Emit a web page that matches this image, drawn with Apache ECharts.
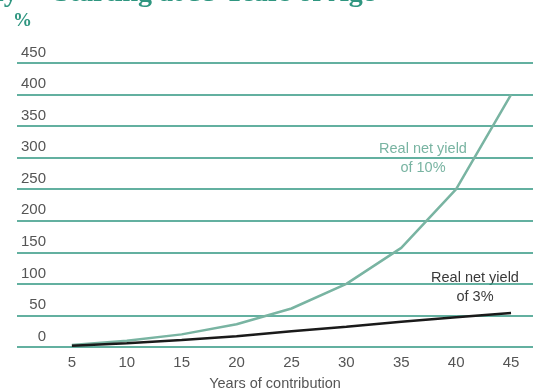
<!DOCTYPE html>
<html>
<head>
<meta charset="utf-8">
<script src="https://cdn.jsdelivr.net/npm/echarts@6/dist/echarts.min.js"></script>
<style>
  html, body { margin: 0; padding: 0; background: #fff; }
  #chart { width: 533px; height: 389px; }
</style>
</head>
<body>
<div id="chart"></div>
<script>
// years of contribution (x axis)
const years = [5, 10, 15, 20, 25, 30, 35, 40, 45];
// accumulated value in %
const yield10 = [3, 10, 20, 36, 61, 100, 157, 250, 400];
const yield3 = [2, 6, 11, 17, 25, 32, 40, 47, 54];
const yTicks = [0, 50, 100, 150, 200, 250, 300, 350, 400, 450];

const green = "#2f9680";
const lightGreen = "#79b4a2";
const grey = "#555";

const chart = echarts.init(document.getElementById("chart"));

const option = {
  animation: false,
  grid: { left: 17, right: 0, top: 63, bottom: 42, containLabel: false, outerBoundsMode: "none" },
  xAxis: {
    type: "value",
    min: 0,
    max: 47,
    interval: 5,
    axisLine: { show: false },
    axisTick: { show: false },
    splitLine: { show: false },
    axisLabel: {
      color: grey,
      fontSize: 15,
      fontFamily: "Liberation Sans",
      margin: 8,
      showMinLabel: false,
      showMaxLabel: false,
      formatter: (v) => (years.includes(v) ? String(v) : ""),
    },
    name: "Years of contribution",
    nameLocation: "middle",
    nameGap: 29,
    nameTextStyle: { color: grey, fontSize: 14.5, fontFamily: "Liberation Sans" },
  },
  yAxis: {
    type: "value",
    min: yTicks[0],
    max: yTicks[yTicks.length - 1],
    interval: 50,
    axisLine: { show: false },
    axisTick: { show: false },
    splitLine: { lineStyle: { color: green, width: 1.5 } },
    axisLabel: {
      inside: true,
      align: "right",
      verticalAlign: "bottom",
      margin: 29,
      padding: [0, 0, 3, 0],
      color: grey,
      fontSize: 15,
      fontFamily: "Liberation Sans",
    },
  },
  graphic: [
    // title is cut off at the top edge of the picture
    {
      type: "text",
      x: -4,
      y: 8,
      style: {
        text: "ly",
        fill: green,
        font: "bold 28px 'Liberation Serif'",
        verticalAlign: "bottom",
      },
    },
    {
      type: "text",
      x: 54,
      y: 8,
      style: {
        text: "Starting at 35 Years of Age",
        fill: green,
        font: "bold 28px 'Liberation Serif'",
        verticalAlign: "bottom",
      },
    },
    {
      type: "text",
      left: 13,
      top: 12,
      style: { text: "%", fill: green, font: "bold 19px 'Liberation Serif'" },
    },
    {
      type: "text",
      x: 423,
      y: 139,
      style: {
        text: "Real net yield\nof 10%",
        fill: lightGreen,
        font: "14.5px 'Liberation Sans'",
        lineHeight: 19,
        align: "center",
      },
    },
    {
      type: "text",
      x: 475,
      y: 268,
      style: {
        text: "Real net yield\nof 3%",
        fill: "#3a3a3a",
        font: "14.5px 'Liberation Sans'",
        lineHeight: 19,
        align: "center",
      },
    },
  ],
  series: [
    {
      name: "Real net yield of 10%",
      type: "line",
      data: years.map((y, i) => [y, yield10[i]]),
      symbol: "none",
      lineStyle: { color: lightGreen, width: 2.5 },
    },
    {
      name: "Real net yield of 3%",
      type: "line",
      data: years.map((y, i) => [y, yield3[i]]),
      symbol: "none",
      lineStyle: { color: "#1a1a1a", width: 2.5 },
    },
  ],
};

chart.setOption(option);
</script>
</body>
</html>
